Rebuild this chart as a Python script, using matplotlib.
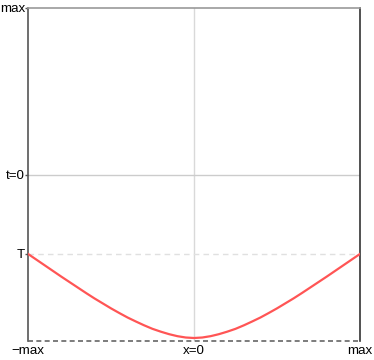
import numpy as np
import matplotlib
matplotlib.use("Agg")
import matplotlib.pyplot as plt

plt.rcParams['font.family'] = ['Liberation Sans', 'DejaVu Sans']

# right half of the curve (symmetric about x=0)
x_half = [0.0, 0.05, 0.1, 0.15, 0.2, 0.25, 0.3, 0.35, 0.4, 0.45, 0.5,
          0.55, 0.6, 0.65, 0.7, 0.75, 0.8, 0.85, 0.9, 0.95, 1.0]
t_half = [-0.982, -0.979, -0.971, -0.959, -0.944, -0.927, -0.906, -0.883, -0.859, -0.832, -0.804,
          -0.774, -0.744, -0.712, -0.679, -0.646, -0.613, -0.579, -0.545, -0.511, -0.477]
T_level = -0.477

x_ticks = [-1, 0, 1]
x_labels = ['\u2212max', 'x=0', 'max']
y_ticks = [T_level, 0, 1]
y_labels = ['T', 't=0', 'max']

x_vals = [-v for v in x_half[::-1]] + x_half[1:]
t_vals = t_half[::-1] + t_half[1:]

fig = plt.figure(figsize=(3.74, 3.6), dpi=100)
ax = fig.add_axes([28/374, 19/360, 332/374, 333/360])

ax.axvline(0, color='#d9d9d9', lw=1, zorder=1)
ax.axhline(0, color='#cccccc', lw=1, zorder=1)
ax.axhline(T_level, color='#e0e0e0', lw=1, ls=(0, (4, 3)), zorder=1)
ax.plot(x_vals, t_vals, color='#ff5555', lw=1.6, zorder=3)

ax.set_xlim(-1, 1)
ax.set_ylim(-1, 1)

ax.set_xticks(x_ticks)
ax.set_xticklabels(x_labels)
ax.set_yticks(y_ticks)
ax.set_yticklabels(y_labels)
ax.tick_params(axis='x', length=0, pad=3, labelsize=9.6, colors='#000000')
ax.tick_params(axis='y', length=2, width=1, pad=0.2, labelsize=9.6, color='#555555')

ax.spines['left'].set_color('#555555')
ax.spines['right'].set_color('#333333')
ax.spines['top'].set_color('#999999')
ax.spines['bottom'].set_visible(False)
for s in ['left', 'right', 'top']:
    ax.spines[s].set_linewidth(1.2)
ax.axhline(-1, color='#666666', lw=1.2, ls=(0, (3, 2)), clip_on=False, zorder=4)

fig.savefig('out.png', dpi=100)
